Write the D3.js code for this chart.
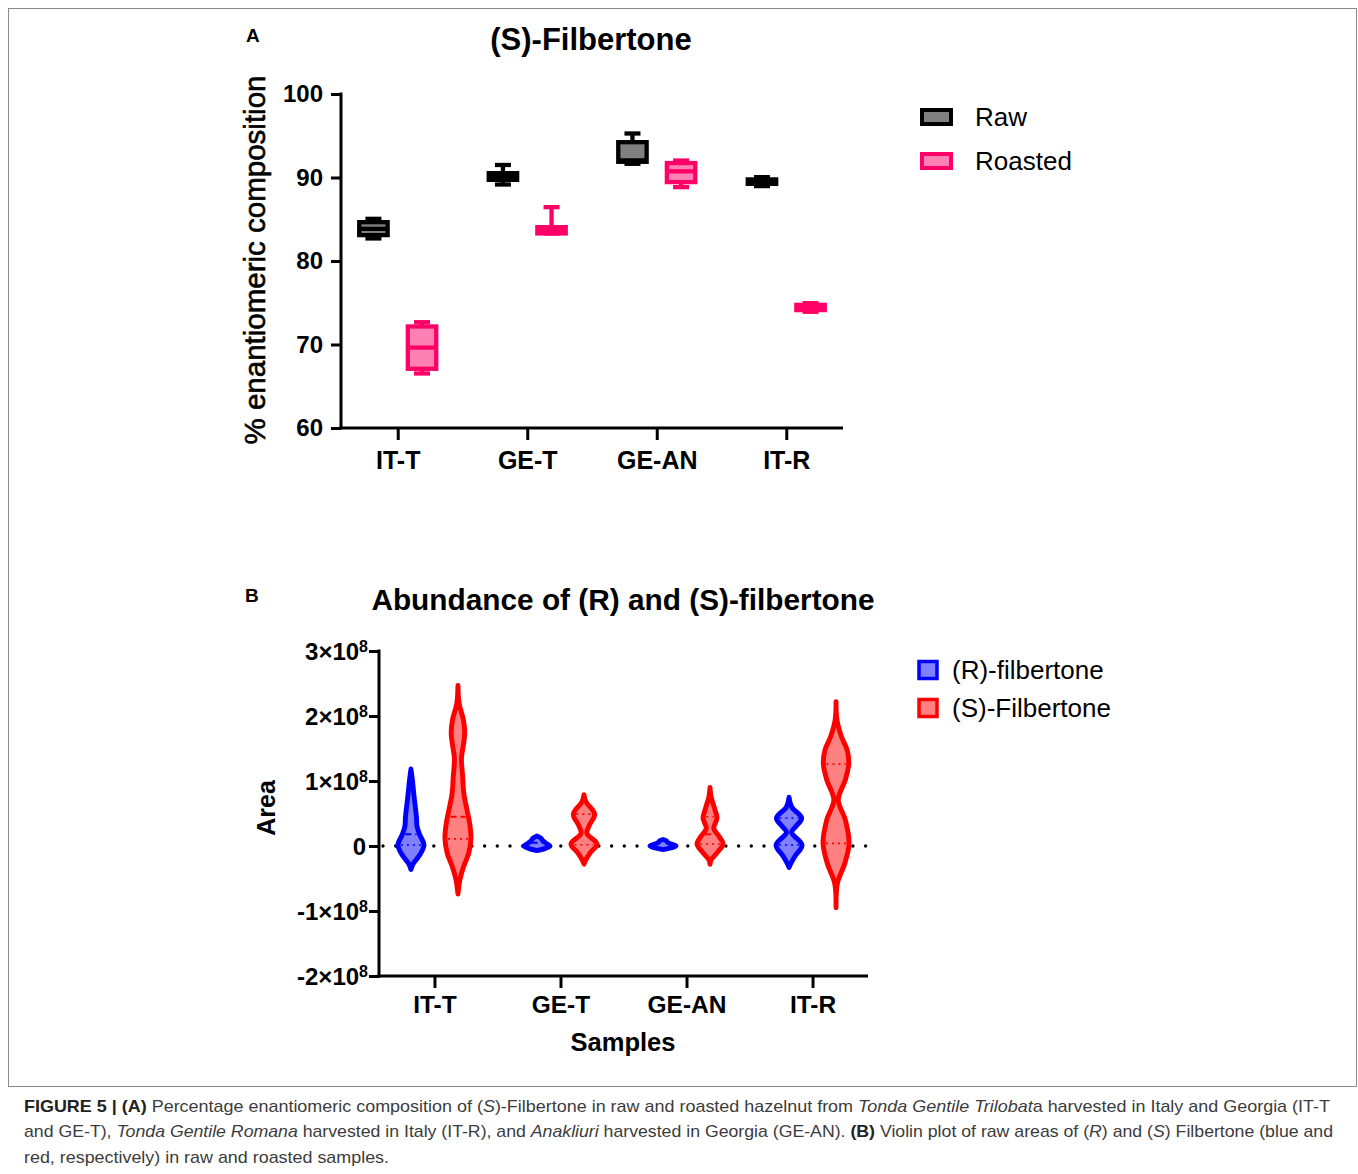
<!DOCTYPE html>
<html><head><meta charset="utf-8">
<script src="https://cdn.jsdelivr.net/npm/d3@7"></script>
<style>
body{margin:0;background:#fff}
svg{display:block}
text{font-family:"Liberation Sans",Arial,Helvetica,sans-serif}
</style>
</head><body>
<svg id="c" width="1358" height="1174"></svg>
<script>
// ---------- DATA ----------
const samples = ["IT-T", "GE-T", "GE-AN", "IT-R"];
const seriesA = ["Raw", "Roasted"];
const ticksA = [60, 70, 80, 90, 100];
// Panel A box statistics (% enantiomeric composition)
const rawMin   = [82.70, 89.16, 91.64, 88.97];
const rawQ1    = [83.10, 89.72, 91.88, 89.24];
const rawMed   = [83.85, 90.12, 92.05, 89.50];
const rawQ3    = [84.65, 90.52, 94.23, 89.77];
const rawMax   = [85.05, 91.50, 95.27, 90.04];
const roastMin = [66.53, 83.30, 88.85, 73.92];
const roastQ1  = [67.09, 83.30, 89.45, 74.12];
const roastMed = [69.63, 83.60, 90.74, 74.45];
const roastQ3  = [72.16, 84.05, 91.73, 74.75];
const roastMax = [72.67, 86.45, 92.03, 74.95];

// Panel B violins: levels in units of 1e8 area, relative density width (0..1)
const seriesB = ["(R)-filbertone", "(S)-Filbertone"];
const ticksB = [-2, -1, 0, 1, 2, 3];
const rLevels = [
  [1.185, 1.015, 0.76, 0.45, 0.30, 0.17, 0.015, -0.14, -0.27, -0.36],
  [0.154, 0.12, 0.08, 0.04, 0.0, -0.04, -0.07],
  [0.10, 0.08, 0.05, 0.02, 0.0, -0.03, -0.055],
  [0.75, 0.60, 0.43, 0.30, 0.21, 0.015, -0.16, -0.29, -0.33]
];
const rWidths = [
  [0, 0.11, 0.24, 0.42, 0.47, 0.68, 1, 0.67, 0.18, 0],
  [0, 0.3, 0.45, 0.7, 1, 0.6, 0],
  [0, 0.25, 0.4, 0.8, 1, 0.6, 0],
  [0, 0.2, 0.97, 0.52, 0.2, 1, 0.44, 0.08, 0]
];
const sLevels = [
  [2.47, 2.19, 1.94, 1.73, 1.53, 1.35, 1.07, 0.81, 0.55, 0.35, 0.12, -0.11, -0.32, -0.52, -0.74],
  [0.79, 0.68, 0.49, 0.32, 0.195, 0.03, -0.11, -0.24, -0.28],
  [0.90, 0.76, 0.55, 0.43, 0.27, 0.14, 0.03, -0.09, -0.215, -0.28],
  [2.22, 1.94, 1.68, 1.48, 1.27, 1.02, 0.71, 0.40, 0.04, -0.27, -0.57, -0.95]
];
const sWidths = [
  [0, 0.09, 0.42, 0.52, 0.4, 0.27, 0.36, 0.45, 0.7, 0.9, 1, 0.83, 0.43, 0.15, 0],
  [0, 0.15, 0.82, 0.42, 0.22, 1, 0.46, 0.07, 0],
  [0, 0.08, 0.39, 0.54, 0.29, 0.73, 1, 0.6, 0.08, 0],
  [0, 0.07, 0.42, 0.85, 0.98, 0.72, 0.17, 0.72, 1, 0.67, 0.11, 0]
];
const rMedians = [0.18, 0.05, null, null];
const sMedians = [0.45, null, 0.18, null];
const rQuartiles = [[0.015], [], [], [0.43, 0.015]];
const sQuartiles = [[0.11], [0.49, 0.02], [0.45, 0.03], [1.26, 0.04]];

// ---------- DRAW ----------
const svg = d3.select("#c");
const F = '"Liberation Sans",Arial,sans-serif';

svg.append("rect").attr("x", 8.5).attr("y", 8.5).attr("width", 1348).attr("height", 1078)
  .attr("fill", "none").attr("stroke", "#8a8a8a").attr("stroke-width", 1);

// ===== Panel A =====
const xA = d3.scalePoint().domain(samples).range([341, 843]).padding(0.438);
const yA = d3.scaleLinear().domain([60, 100]).range([428, 94]);
const gA = svg.append("g");

gA.append("text").attr("x", 246).attr("y", 42).attr("font-weight", "bold").attr("font-size", 19).text("A");
gA.append("text").attr("x", 591).attr("y", 50).attr("text-anchor", "middle")
  .attr("font-weight", "bold").attr("font-size", 31).text("(S)-Filbertone");

const axYA = gA.append("g").attr("transform", "translate(341,0)")
  .call(d3.axisLeft(yA).tickValues(ticksA).tickSize(10).tickPadding(8).tickFormat(d3.format("d")));
const axXA = gA.append("g").attr("transform", "translate(0,428)")
  .call(d3.axisBottom(xA).tickSize(12).tickPadding(11));
[axYA, axXA].forEach(a => {
  a.select(".domain").remove();
  a.selectAll("line").attr("stroke", "#000").attr("stroke-width", 3);
  a.selectAll("text").attr("font-family", F).attr("font-weight", "bold").attr("font-size", 24).attr("fill", "#000");
});
axXA.selectAll("text").attr("font-size", 25);
gA.append("line").attr("x1", 341).attr("x2", 341).attr("y1", 92.5).attr("y2", 429.5).attr("stroke", "#000").attr("stroke-width", 3);
gA.append("line").attr("x1", 339.5).attr("x2", 843).attr("y1", 428).attr("y2", 428).attr("stroke", "#000").attr("stroke-width", 3);

gA.append("text").attr("transform", "translate(265,260) rotate(-90)").attr("text-anchor", "middle")
  .attr("font-size", 29.5).attr("stroke", "#000").attr("stroke-width", 0.6).text("% enantiomeric composition");

const boxStyles = [
  {stroke: "#000000", fill: "#808080", off: -24.3, min: rawMin, q1: rawQ1, med: rawMed, q3: rawQ3, max: rawMax},
  {stroke: "#FF0066", fill: "#FF80B3", off: 24.3, min: roastMin, q1: roastQ1, med: roastMed, q3: roastQ3, max: roastMax}
];
const SW = 4.3, BW = 28.4, CW = 16;
boxStyles.forEach(s => {
  samples.forEach((c, i) => {
    const cx = xA(c) + s.off;
    const g = gA.append("g");
    g.append("line").attr("x1", cx).attr("x2", cx).attr("y1", yA(s.max[i])).attr("y2", yA(s.q3[i]))
      .attr("stroke", s.stroke).attr("stroke-width", SW);
    g.append("line").attr("x1", cx).attr("x2", cx).attr("y1", yA(s.q1[i])).attr("y2", yA(s.min[i]))
      .attr("stroke", s.stroke).attr("stroke-width", SW);
    [s.max[i], s.min[i]].forEach(v => {
      g.append("line").attr("x1", cx - CW / 2).attr("x2", cx + CW / 2).attr("y1", yA(v)).attr("y2", yA(v))
        .attr("stroke", s.stroke).attr("stroke-width", SW);
    });
    g.append("rect").attr("x", cx - BW / 2).attr("width", BW)
      .attr("y", yA(s.q3[i])).attr("height", Math.max(0.5, yA(s.q1[i]) - yA(s.q3[i])))
      .attr("fill", s.fill).attr("stroke", s.stroke).attr("stroke-width", SW);
    g.append("line").attr("x1", cx - BW / 2).attr("x2", cx + BW / 2).attr("y1", yA(s.med[i])).attr("y2", yA(s.med[i]))
      .attr("stroke", s.stroke).attr("stroke-width", SW);
  });
});

// legend A
const legA = [{t: seriesA[0], s: "#000000", f: "#808080", y: 117}, {t: seriesA[1], s: "#FF0066", f: "#FF80B3", y: 161}];
legA.forEach(l => {
  gA.append("rect").attr("x", 922).attr("y", l.y - 7).attr("width", 29).attr("height", 14)
    .attr("fill", l.f).attr("stroke", l.s).attr("stroke-width", 4);
  gA.append("text").attr("x", 975).attr("y", l.y + 9).attr("font-size", 26).text(l.t);
});

// ===== Panel B =====
const xB = d3.scalePoint().domain(samples).range([379, 868]).padding(0.44);
const yB = d3.scaleLinear().domain([-2, 3]).range([976, 651]);
const wB = d3.scaleLinear().domain([0, 1]).range([0, 13]);
const gB = svg.append("g");

gB.append("text").attr("x", 245).attr("y", 602).attr("font-weight", "bold").attr("font-size", 19).text("B");
gB.append("text").attr("x", 623).attr("y", 610).attr("text-anchor", "middle")
  .attr("font-weight", "bold").attr("font-size", 29.8).text("Abundance of (R) and (S)-filbertone");

const axYB = gB.append("g").attr("transform", "translate(379,0)")
  .call(d3.axisLeft(yB).tickValues(ticksB).tickSize(10).tickPadding(6).tickFormat(""));
const axXB = gB.append("g").attr("transform", "translate(0,976)")
  .call(d3.axisBottom(xB).tickSize(12).tickPadding(8));
[axYB, axXB].forEach(a => {
  a.select(".domain").remove();
  a.selectAll("line").attr("stroke", "#000").attr("stroke-width", 3);
  a.selectAll("text").attr("font-family", F).attr("font-weight", "bold").attr("font-size", 24.5).attr("fill", "#000");
});
axYB.selectAll(".tick").each(function (d) {
  const t = d3.select(this).select("text").text(null).attr("x", -11).attr("dy", "0.36em")
    .attr("font-size", 24);
  if (d === 0) { t.attr("x", -13).text("0"); return; }
  t.append("tspan").text((d < 0 ? "-" : "") + Math.abs(d) + "×10");
  t.append("tspan").attr("dy", "-0.5em").attr("font-size", 16).text("8");
});
gB.append("line").attr("x1", 379).attr("x2", 379).attr("y1", 649.5).attr("y2", 977.5).attr("stroke", "#000").attr("stroke-width", 3);
gB.append("line").attr("x1", 377.5).attr("x2", 868).attr("y1", 976).attr("y2", 976).attr("stroke", "#000").attr("stroke-width", 3);

gB.append("text").attr("transform", "translate(275,808) rotate(-90)").attr("text-anchor", "middle")
  .attr("font-weight", "bold").attr("font-size", 25).text("Area");
gB.append("text").attr("x", 623).attr("y", 1051).attr("text-anchor", "middle")
  .attr("font-weight", "bold").attr("font-size", 25.5).text("Samples");

// zero dotted line
gB.append("line").attr("x1", 383).attr("x2", 866).attr("y1", yB(0)).attr("y2", yB(0))
  .attr("stroke", "#000").attr("stroke-width", 3.4).attr("stroke-linecap", "round")
  .attr("stroke-dasharray", "0,12.7");

const violinSeries = [
  {stroke: "#0000FF", fill: "#8080FF", off: -23.5, L: rLevels, W: rWidths, med: rMedians, q: rQuartiles},
  {stroke: "#FF0000", fill: "#FF8080", off: 23.5, L: sLevels, W: sWidths, med: sMedians, q: sQuartiles}
];
violinSeries.forEach(s => {
  samples.forEach((c, i) => {
    const cx = xB(c) + s.off;
    const pts = s.L[i].map((v, k) => [v, s.W[i][k]]);
    const area = d3.area().curve(d3.curveCatmullRom.alpha(0.5))
      .y(d => yB(d[0])).x0(d => cx - wB(d[1])).x1(d => cx + wB(d[1]));
    gB.append("path").attr("d", area(pts)).attr("fill", s.fill).attr("stroke", s.stroke)
      .attr("stroke-width", 4.9).attr("stroke-linejoin", "round");
    const hw = d3.scaleLinear().domain(s.L[i]).range(s.W[i]);
    const inner = v => Math.max(0, wB(hw(v)) - 3);
    if (s.med[i] != null) {
      const h = inner(s.med[i]);
      gB.append("line").attr("x1", cx - h).attr("x2", cx + h).attr("y1", yB(s.med[i])).attr("y2", yB(s.med[i]))
        .attr("stroke", s.stroke).attr("stroke-width", 2).attr("stroke-dasharray", "6,4");
    }
    s.q[i].forEach(v => {
      const h = inner(v);
      gB.append("line").attr("x1", cx - h).attr("x2", cx + h).attr("y1", yB(v)).attr("y2", yB(v))
        .attr("stroke", s.stroke).attr("stroke-width", 1.6).attr("stroke-dasharray", "2,4");
    });
  });
});

// legend B
const legB = [{t: seriesB[0], s: "#0000FF", f: "#8080FF", y: 670}, {t: seriesB[1], s: "#FF0000", f: "#FF8080", y: 708}];
legB.forEach(l => {
  gB.append("rect").attr("x", 919).attr("y", l.y - 8.5).attr("width", 18).attr("height", 17)
    .attr("fill", l.f).attr("stroke", l.s).attr("stroke-width", 3.5);
  gB.append("text").attr("x", 952).attr("y", l.y + 9).attr("font-size", 26).text(l.t);
});

// ===== Caption =====
const capLines = [
  {y: 1112, len: 1306, parts: [
    ["FIGURE 5 | (A)", "b"], [" Percentage enantiomeric composition of (", ""], ["S", "i"],
    [")-Filbertone in raw and roasted hazelnut from ", ""], ["Tonda Gentile Trilobat", "i"],
    ["a harvested in Italy and Georgia (IT-T", ""]]},
  {y: 1137, len: 1309, parts: [
    ["and GE-T), ", ""], ["Tonda Gentile Romana", "i"], [" harvested in Italy (IT-R), and ", ""],
    ["Anakliuri", "i"], [" harvested in Georgia (GE-AN). ", ""], ["(B)", "b"],
    [" Violin plot of raw areas of (", ""], ["R", "i"], [") and (", ""], ["S", "i"],
    [") Filbertone (blue and", ""]]},
  {y: 1163, len: 365, parts: [["red, respectively) in raw and roasted samples.", ""]]}
];
capLines.forEach(l => {
  const t = svg.append("text").attr("x", 24).attr("y", l.y).attr("font-size", 17).attr("fill", "#3c3c3c")
    .attr("textLength", l.len).attr("lengthAdjust", "spacingAndGlyphs");
  l.parts.forEach(p => {
    const ts = t.append("tspan").text(p[0]);
    if (p[1] === "b") ts.attr("font-weight", "bold").attr("fill", "#222");
    if (p[1] === "i") ts.attr("font-style", "italic");
  });
});
</script>
</body></html>
